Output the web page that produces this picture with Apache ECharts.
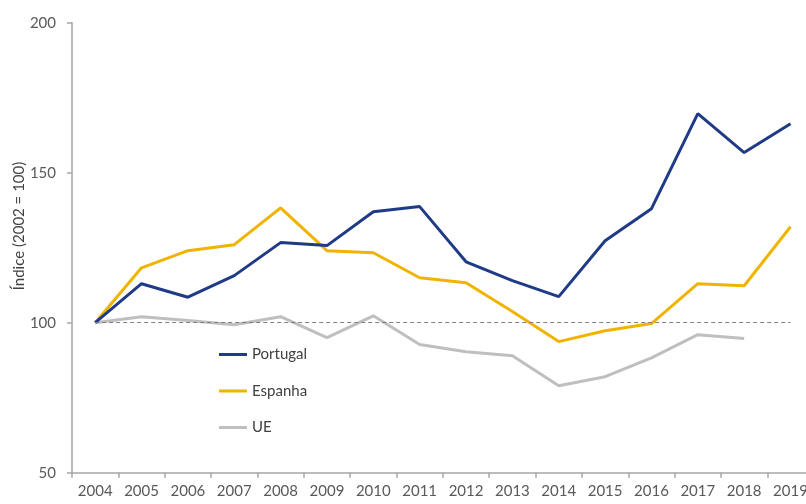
<!DOCTYPE html>
<html>
<head>
<meta charset="utf-8">
<script src="https://cdn.jsdelivr.net/npm/echarts@6/dist/echarts.min.js"></script>
<style>
  html, body { margin: 0; padding: 0; background: #ffffff; }
  #chart { width: 806px; height: 504px; }
</style>
</head>
<body>
<div id="chart"></div>
<script>
// Índice (2002 = 100), valores anuais
const years = ['2004', '2005', '2006', '2007', '2008', '2009', '2010', '2011',
               '2012', '2013', '2014', '2015', '2016', '2017', '2018', '2019'];
const portugal = [100, 113, 108.5, 115.7, 126.7, 125.7, 137, 138.7,
                  120.3, 114, 108.7, 127.3, 138, 169.7, 156.7, 166.3];
const espanha  = [100, 118.3, 124, 126, 138.3, 124, 123.3, 115,
                  113.3, 103.7, 93.7, 97.3, 99.7, 113, 112.3, 132];
const ue       = [100, 102, 100.7, 99.3, 102, 95, 102.3, 92.7,
                  90.3, 89, 79, 82, 88.3, 96, 94.7, null];
const baseline = 100;
const yMin = 50, yMax = 200, yStep = 50;
const yTitle = 'Índice (2002 = 100)';

const FONT = 'Lato, "Open Sans", sans-serif';
const chart = echarts.init(document.getElementById('chart'), null, { renderer: 'canvas' });

chart.setOption({
  backgroundColor: '#ffffff',
  animation: false,
  grid: { left: 72, top: 22.7, bottom: 31.3, right: -7.7, containLabel: false, outerBoundsMode: 'none' },
  legend: {
    orient: 'vertical',
    left: 219,
    top: 347,
    itemWidth: 28,
    itemHeight: 3,
    itemGap: 21.5,
    icon: 'rect',
    padding: 0,
    textStyle: { color: '#404040', fontSize: 15, fontFamily: FONT },
    data: ['Portugal', 'Espanha', 'UE']
  },
  graphic: [{
    type: 'text',
    x: 19,
    y: 226,
    rotation: Math.PI / 2,
    style: {
      text: yTitle,
      fill: '#404040',
      font: '15px ' + FONT,
      align: 'center',
      verticalAlign: 'middle'
    },
    originX: 0, originY: 0
  }],
  xAxis: {
    type: 'category',
    data: years,
    boundaryGap: true,
    axisLine: { lineStyle: { color: '#a6a6a6', width: 1.5 } },
    axisTick: { show: true, length: 5, lineStyle: { color: '#a6a6a6', width: 1.5 } },
    axisLabel: { color: '#595959', fontSize: 15, fontFamily: FONT, margin: 11 },
    splitLine: { show: false }
  },
  yAxis: {
    type: 'value',
    min: yMin,
    max: yMax,
    interval: yStep,
    axisLine: { show: true, lineStyle: { color: '#a6a6a6', width: 1.5 } },
    axisTick: { show: true, length: 5, lineStyle: { color: '#a6a6a6', width: 1.5 } },
    axisLabel: { color: '#595959', fontSize: 15, fontFamily: FONT, margin: 16 },
    splitLine: { show: false }
  },
  series: [
    {
      name: 'Portugal', type: 'line', data: portugal,
      symbol: 'none', z: 4,
      lineStyle: { color: '#1f3a86', width: 3 },
      itemStyle: { color: '#1f3a86' }
    },
    {
      name: 'Espanha', type: 'line', data: espanha,
      symbol: 'none', z: 3,
      lineStyle: { color: '#f0b400', width: 3 },
      itemStyle: { color: '#f0b400' }
    },
    {
      name: 'UE', type: 'line', data: ue,
      symbol: 'none', z: 2,
      lineStyle: { color: '#bfbfbf', width: 3 },
      itemStyle: { color: '#bfbfbf' },
      markLine: {
        silent: true,
        symbol: ['none', 'none'],
        label: { show: false },
        lineStyle: { color: '#808080', width: 1, type: [4, 3] },
        data: [[
          { coord: [years[0], baseline] },
          { coord: [years[years.length - 1], baseline] }
        ]]
      }
    }
  ]
});
</script>
</body>
</html>
